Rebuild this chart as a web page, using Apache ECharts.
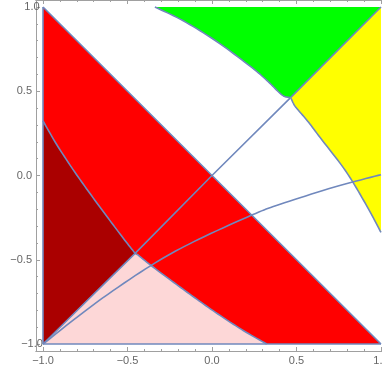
<!DOCTYPE html>
<html>
<head>
<meta charset="utf-8">
<script src="https://cdn.jsdelivr.net/npm/echarts@6/dist/echarts.min.js"></script>
<style>
  html, body { margin: 0; padding: 0; background: #fff; overflow: hidden; }
  #chart { width: 392px; height: 376px; }
</style>
</head>
<body>
<div id="chart"></div>
<script>
// tick values
const majorTicks = [-1, -0.5, 0, 0.5, 1]
const minorTicks = [-0.9, -0.8, -0.7, -0.6, -0.4, -0.3, -0.2, -0.1, 0.1, 0.2, 0.3, 0.4, 0.6, 0.7, 0.8, 0.9]

// boundary curves
const upperEdge = [[-1, 1], [-0.5, 0.5], [0, 0], [0.5, -0.5], [1, -1]]
const darkRedCurve = [[-1, 0.324], [-0.921, 0.187], [-0.822, 0.035], [-0.724, -0.104], [-0.625, -0.239], [-0.526, -0.371], [-0.455, -0.462]]
const pinkCurve = [[-0.44, -0.47], [-0.371, -0.526], [-0.239, -0.625], [-0.104, -0.724], [0.035, -0.822], [0.187, -0.921], [0.324, -1]]
const greenCurve = [[-0.338, 1], [-0.17, 0.918], [0.028, 0.795], [0.225, 0.649], [0.324, 0.565], [0.4, 0.49], [0.432, 0.467]]
const yellowCurve = [[0.48, 0.43], [0.5, 0.4], [0.565, 0.324], [0.64, 0.225], [0.79, 0.028], [0.91, -0.17], [1, -0.338]]
const diagonal = [[-1, -1], [-0.455, -0.462], [0, 0], [0.465, 0.462]]
const cornerLine = [[0.465, 0.462], [1, 1]]
const crossCurve = [[-1, -1], [-0.683, -0.753], [-0.364, -0.536], [-0.11, -0.394], [0.235, -0.235], [0.403, -0.171], [0.72, -0.07], [1, 0.005]]
const greenFoot = [[0.432, 0.467], [0.462, 0.462]]
const yellowFoot = [[0.468, 0.458], [0.48, 0.43]]
const leftEdge = [[-1, -1], [-1, 1]]
const bottomEdge = [[-1, -1], [1, -1]]

const rev = a => a.slice().reverse()

// each region: list of [points, smooth]
const regions = [
	{ color: '#ff0000', parts: [[upperEdge, false], [rev(pinkCurve), true], [rev(darkRedCurve), true]] },
	{ color: '#aa0000', parts: [[darkRedCurve, true], [[[-1, -1]], false]] },
	{ color: '#fdd7d7', parts: [[[[-1, -1], [-0.455, -0.462]], false], [pinkCurve, true]] },
	{ color: '#00ff00', parts: [[greenCurve, true], [greenFoot, false], [[[0.465, 0.462], [1, 1]], false]] },
	{ color: '#ffff00', parts: [[[[1, 1], [0.465, 0.462]], false], [yellowFoot, false], [yellowCurve, true]] },
]

const lineColor = '#7088bd'
const lines = [
	[upperEdge, false], [darkRedCurve, true], [pinkCurve, true], [greenCurve, true], [yellowCurve, true],
	[greenFoot, false], [yellowFoot, false], [[[-0.455, -0.462], [-0.44, -0.47]], false],
	[diagonal, false], [cornerLine, false], [crossCurve, true], [leftEdge, false], [bottomEdge, false],
]

// catmull-rom, only for drawing
const smoothPath = (p, n) => {
	if (p.length < 3) return p
	const out = []
	for (let i = 0; i < p.length - 1; i++) {
		const p0 = p[i - 1] || p[i]
		const p1 = p[i]
		const p2 = p[i + 1]
		const p3 = p[i + 2] || p[i + 1]
		for (let t = 0; t < n; t++) {
			const s = t / n
			const s2 = s * s
			const s3 = s2 * s
			out.push([0, 1].map(k => 0.5 * (2 * p1[k] + (p2[k] - p0[k]) * s
				+ (2 * p0[k] - 5 * p1[k] + 4 * p2[k] - p3[k]) * s2
				+ (3 * p1[k] - p0[k] - 3 * p2[k] + p3[k]) * s3)))
		}
	}
	out.push(p[p.length - 1])
	return out
}

const toPixels = (api, pts, smooth) => {
	const px = pts.map(p => api.coord(p))
	return smooth ? smoothPath(px, 10) : px
}

const fmt = v => (v < 0 ? '\u2212' + Math.abs(v).toFixed(1) : v.toFixed(1))

const makeAxis = (position, ticks, len, labels) => ({
	type: 'value',
	position,
	min: -1.0415,
	max: 1.0415,
	axisLine: { show: true, onZero: false, lineStyle: { color: '#a0a0a0', width: 1 } },
	axisTick: { show: true, inside: true, length: len, customValues: ticks, lineStyle: { color: '#a0a0a0' } },
	axisLabel: labels
		? {
			show: true, customValues: majorTicks, formatter: fmt, color: '#666', fontSize: 11,
			fontFamily: 'Liberation Sans', margin: 4, alignMinLabel: 'center', alignMaxLabel: 'center',
		}
		: { show: false },
	splitLine: { show: false },
})

const chart = echarts.init(document.getElementById('chart'), null, { renderer: 'canvas' })

chart.setOption({
	animation: false,
	grid: { left: 36, top: -1, width: 352, height: 352 },
	xAxis: [
		makeAxis('bottom', majorTicks, 4, true),
		makeAxis('bottom', minorTicks, 2, false),
		makeAxis('top', majorTicks, 4, false),
		makeAxis('top', minorTicks, 2, false),
	],
	yAxis: [
		makeAxis('left', majorTicks, 4, true),
		makeAxis('left', minorTicks, 2, false),
	],
	series: [
		{
			type: 'custom',
			xAxisIndex: 0,
			yAxisIndex: 0,
			data: regions.map((r, i) => [i]),
			renderItem: (params, api) => {
				const r = regions[params.dataIndex]
				let points = []
				r.parts.forEach(([pts, smooth]) => {
					points = points.concat(toPixels(api, pts, smooth))
				})
				return { type: 'polygon', shape: { points }, style: { fill: r.color } }
			},
			silent: true,
		},
		{
			type: 'custom',
			xAxisIndex: 0,
			yAxisIndex: 0,
			data: lines.map((l, i) => [i]),
			renderItem: (params, api) => {
				const [pts, smooth] = lines[params.dataIndex]
				return {
					type: 'polyline',
					shape: { points: toPixels(api, pts, smooth) },
					style: { stroke: lineColor, lineWidth: 1.6, fill: null, lineJoin: 'round' },
				}
			},
			silent: true,
		},
	],
})
</script>
</body>
</html>
